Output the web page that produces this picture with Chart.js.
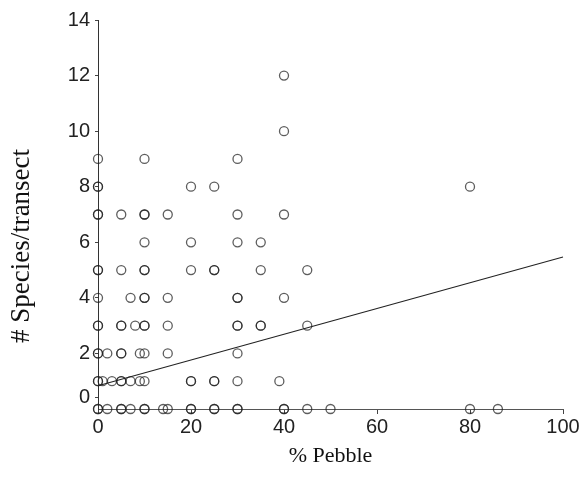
<!DOCTYPE html>
<html>
<head>
<meta charset="utf-8">
<script src="https://cdn.jsdelivr.net/npm/chart.js@4"></script>
<style>
  html, body { margin: 0; padding: 0; background: #fff; }
  #wrap { position: relative; width: 581px; height: 494px; }
  canvas { display: block; }
</style>
</head>
<body>
<div id="wrap"><canvas id="c" width="581" height="494"></canvas></div>
<script>
// ---- Data ----
// x values (% pebble) of the transects, grouped by # species per transect
const speciesLevels = [12, 10, 9, 8, 7, 6, 5, 4, 3, 2, 1, 0];
const pebbleAt12 = [40];
const pebbleAt10 = [40];
const pebbleAt9 = [0, 10, 30];
const pebbleAt8 = [0, 0, 20, 25, 80];
const pebbleAt7 = [0, 0, 5, 10, 10, 15, 30, 40];
const pebbleAt6 = [10, 20, 30, 35];
const pebbleAt5 = [0, 0, 5, 10, 10, 20, 25, 25, 35, 45];
const pebbleAt4 = [0, 7, 10, 10, 15, 30, 30, 40];
const pebbleAt3 = [0, 0, 5, 5, 8, 10, 10, 15, 30, 30, 35, 35, 45];
const pebbleAt2 = [0, 0, 2, 5, 5, 9, 10, 15, 30];
const pebbleAt1 = [0, 0, 1, 3, 5, 5, 7, 9, 10, 20, 20, 25, 25, 30, 39];
const pebbleAt0 = [0, 0, 2, 5, 5, 7, 10, 10, 14, 15, 20, 20, 25, 25, 30, 30, 40, 40, 45, 50, 80, 86];

// regression line end points
const fitX = [0, 100];
const fitY = [0.84, 5.47];

// axis ticks
const xTickValues = [0, 20, 40, 60, 80, 100];
const yTickValues = [0.4, 2, 4, 6, 8, 10, 12, 14];
const yTickLabels = ['0', '2', '4', '6', '8', '10', '12', '14'];

const xTitle = '% Pebble';
const yTitle = '# Species/transect';

// ---- Build datasets ----
const groups = [pebbleAt12, pebbleAt10, pebbleAt9, pebbleAt8, pebbleAt7, pebbleAt6,
                pebbleAt5, pebbleAt4, pebbleAt3, pebbleAt2, pebbleAt1, pebbleAt0];
const points = [];
groups.forEach((xs, i) => xs.forEach(x => points.push({ x: x, y: speciesLevels[i] })));
const fitLine = fitX.map((x, i) => ({ x: x, y: fitY[i] }));

const axisTitles = {
  id: 'axisTitles',
  afterDraw(chart) {
    const ctx = chart.ctx;
    const a = chart.chartArea;
    ctx.save();
    ctx.fillStyle = '#111';
    ctx.textAlign = 'center';
    ctx.textBaseline = 'middle';
    ctx.font = '22px "Liberation Serif", "Times New Roman", serif';
    ctx.fillText(xTitle, (a.left + a.right) / 2, 456);
    ctx.translate(22, 246);
    ctx.rotate(-Math.PI / 2);
    ctx.font = '27px "Liberation Serif", "Times New Roman", serif';
    ctx.fillText(yTitle, 0, 0);
    ctx.restore();
  }
};

new Chart(document.getElementById('c'), {
  type: 'scatter',
  data: {
    datasets: [
      {
        label: 'Transects',
        data: points,
        clip: false,
        pointStyle: 'circle',
        pointRadius: 4.5,
        pointHoverRadius: 4.5,
        borderWidth: 1.3,
        borderColor: 'rgba(30,30,30,0.72)',
        backgroundColor: 'rgba(0,0,0,0)',
        order: 1
      },
      {
        type: 'line',
        label: 'Fit',
        data: fitLine,
        clip: false,
        borderColor: '#222',
        borderWidth: 1.1,
        pointRadius: 0,
        fill: false,
        order: 2
      }
    ]
  },
  options: {
    responsive: false,
    animation: false,
    devicePixelRatio: 1,
    layout: { padding: { left: 0, top: 20, right: 18, bottom: 0 } },
    plugins: { legend: { display: false }, tooltip: { enabled: false } },
    scales: {
      x: {
        type: 'linear',
        min: 0, max: 100,
        afterBuildTicks: s => { s.ticks = xTickValues.map(v => ({ value: v })); },
        afterFit: s => { s.height = 85; },
        grid: { display: true, drawOnChartArea: false, drawTicks: true, tickLength: 5, color: '#444' },
        border: { display: true, color: '#555', width: 1 },
        ticks: { color: '#222', padding: 1, font: { family: '"Liberation Sans", Arial, sans-serif', size: 20 } }
      },
      y: {
        type: 'linear',
        min: 0, max: 14,
        afterBuildTicks: s => { s.ticks = yTickValues.map(v => ({ value: v })); },
        afterFit: s => { s.width = 98; },
        grid: { display: true, drawOnChartArea: false, drawTicks: true, tickLength: 3, color: '#444' },
        border: { display: true, color: '#333', width: 1 },
        ticks: {
          color: '#222', padding: 5,
          font: { family: '"Liberation Sans", Arial, sans-serif', size: 20 },
          callback: (v, i) => yTickLabels[i]
        }
      }
    }
  },
  plugins: [axisTitles]
});
</script>
</body>
</html>
